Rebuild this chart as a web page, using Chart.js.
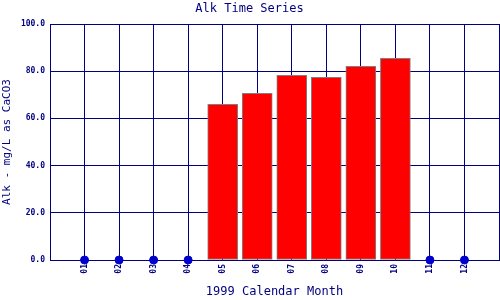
<!DOCTYPE html>
<html>
<head>
<meta charset="utf-8">
<script src="https://cdn.jsdelivr.net/npm/chart.js@4"></script>
<style>
  html, body { margin: 0; padding: 0; background: #fff; }
  #wrap { width: 500px; height: 300px; }
</style>
</head>
<body>
<div id="wrap"><canvas id="chart-alk"></canvas></div>
<script>
// months on the x axis, blank slots at both ends pad the axis
const months = ['01', '02', '03', '04', '05', '06', '07', '08', '09', '10', '11', '12'];
// alkalinity per month, null = no sample that month
const alkValues = [null, null, null, null, 66.0, 70.6, 78.3, 77.4, 82.1, 85.5, null, null];
const yTicks = [0, 20, 40, 60, 80, 100];

const NAVY = '#000080';
const DOT_BLUE = '#0000CC';
const FONT = "'DejaVu Sans Mono', 'Liberation Mono', monospace";

document.addEventListener('DOMContentLoaded', function () {
  const el = document.querySelector('#chart-alk');
  if (!el) return;

  const labels = [''].concat(months, ['']);
  const bars = [null].concat(alkValues, [null]);
  // empty months are marked with a dot on the zero line
  const dots = [null].concat(alkValues.map((v) => (v === null ? 0 : null)), [null]);

  new Chart(el, {
    type: 'bar',
    data: {
      labels: labels,
      datasets: [
        {
          type: 'line',
          label: 'no data',
          data: dots,
          showLine: false,
          pointRadius: 4,
          pointHoverRadius: 4,
          pointBackgroundColor: DOT_BLUE,
          pointBorderColor: DOT_BLUE,
          clip: false,
          order: 0,
        },
        {
          label: 'Alk',
          data: bars,
          backgroundColor: '#FF0000',
          borderColor: '#808080',
          borderWidth: 1,
          borderSkipped: false,
          barThickness: 30,
          order: 1,
        },
      ],
    },
    options: {
      responsive: true,
      maintainAspectRatio: false,
      animation: false,
      // no extra room for the point radius, the plot runs to the edge
      layout: { autoPadding: false, padding: { left: 0, top: 0, bottom: 0, right: 1 } },
      scales: {
        x: {
          offset: false,
          grid: { color: NAVY, lineWidth: 1, drawTicks: false, offset: false },
          border: { color: NAVY, width: 1 },
          ticks: {
            autoSkip: false,
            maxRotation: 90,
            minRotation: 90,
            padding: 4,
            color: NAVY,
            font: { family: FONT, size: 8, weight: 'bold' },
          },
          title: {
            display: true,
            text: '1999 Calendar Month',
            color: NAVY,
            font: { family: FONT, size: 12 },
            padding: { top: 0, bottom: 1 },
          },
          afterFit: (scale) => {
            scale.height = 40;
            scale.paddingLeft = 0;
            scale.paddingRight = 0;
          },
        },
        y: {
          min: 0,
          max: 100,
          afterBuildTicks: (scale) => { scale.ticks = yTicks.map((v) => ({ value: v })); },
          grid: { color: NAVY, lineWidth: 1, drawTicks: false },
          border: { color: NAVY, width: 1 },
          ticks: {
            padding: 5,
            color: NAVY,
            font: { family: FONT, size: 8, weight: 'bold' },
            callback: (value) => value.toFixed(1),
          },
          title: {
            display: true,
            text: 'Alk - mg/L as CaCO3',
            color: NAVY,
            font: { family: FONT, size: 11 },
            padding: { top: 1, bottom: 0 },
          },
          afterFit: (scale) => { scale.width = 50; },
        },
      },
      plugins: {
        legend: { display: false },
        tooltip: { enabled: false },
        title: {
          display: true,
          text: 'Alk Time Series',
          color: NAVY,
          font: { family: FONT, size: 12, weight: 'normal' },
          padding: { top: 2, bottom: 7.6 },
        },
      },
    },
  });
});
</script>
</body>
</html>
